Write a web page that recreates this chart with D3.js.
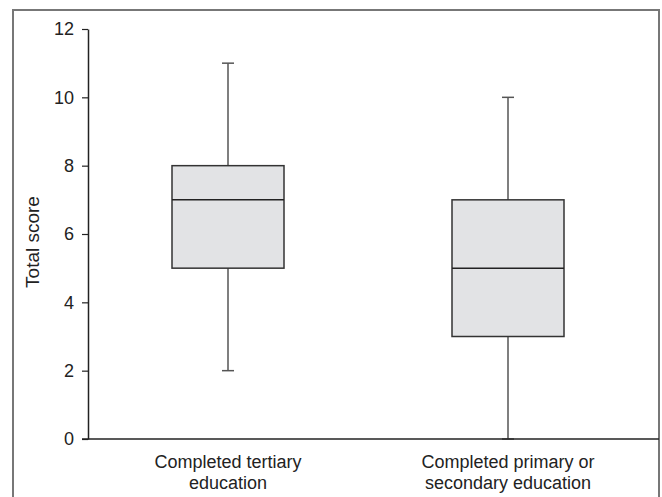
<!DOCTYPE html>
<html>
<head>
<meta charset="utf-8">
<script src="https://cdn.jsdelivr.net/npm/d3@7"></script>
<style>
	body { margin: 0; background: #fff; }
	svg { display: block; font-family: "Liberation Sans", Arial, sans-serif; }
</style>
</head>
<body>
<svg id="chart" width="662" height="497"></svg>
<script>
// groups and their box statistics
var groups = ["Completed tertiary education", "Completed primary or secondary education"];
var groupLines = [["Completed tertiary", "education"], ["Completed primary or", "secondary education"]];
var mins = [2, 0];
var q1s = [5, 3];
var medians = [7, 5];
var q3s = [8, 7];
var maxs = [11, 10];
var yTicks = [0, 2, 4, 6, 8, 10, 12];

var svg = d3.select("#chart");

var margin = { left: 88, top: 29, right: 14, bottom: 58 };
var width = 662, height = 497;

// outer frame (no bottom edge)
svg.append("path")
	.attr("d", "M13,497 L13,10 L659,10 L659,497")
	.style("fill", "none")
	.style("stroke", "#777")
	.style("stroke-width", 2);

var y = d3.scaleLinear()
	.domain([0, 12])
	.range([height - margin.bottom, margin.top]);

var x = d3.scaleBand()
	.domain(groups)
	.range([margin.left, width - margin.right])
	.paddingInner(0.6)
	.paddingOuter(0.3);

var g = svg.append("g");

// y axis
var yAxis = g.append("g")
	.attr("transform", "translate(" + margin.left + ",0)")
	.call(d3.axisLeft(y).tickValues(yTicks).tickSize(6).tickPadding(8).tickSizeOuter(0));
yAxis.attr("font-size", null).attr("font-family", null);
yAxis.select(".domain").style("stroke", "#222").style("stroke-width", 1.5);
yAxis.selectAll(".tick line").style("stroke", "#222").style("stroke-width", 1.2);
yAxis.selectAll("text")
	.style("font-size", "18px")
	.style("fill", "#222");

svg.append("text")
	.attr("transform", "translate(39,242) rotate(-90)")
	.attr("text-anchor", "middle")
	.style("font-size", "19px")
	.style("fill", "#222")
	.text("Total score");

var boxes = g.selectAll(".box")
	.data(groups)
	.enter().append("g")
	.attr("class", "box");

// whiskers
boxes.append("line")
	.attr("x1", (d) => x(d) + x.bandwidth() / 2)
	.attr("x2", (d) => x(d) + x.bandwidth() / 2)
	.attr("y1", (d, i) => y(maxs[i]))
	.attr("y2", (d, i) => y(mins[i]))
	.style("stroke", "#555")
	.style("stroke-width", 1.5);

// caps
[maxs, mins].forEach((arr) => {
	boxes.append("line")
		.attr("x1", (d) => x(d) + x.bandwidth() / 2 - 6)
		.attr("x2", (d) => x(d) + x.bandwidth() / 2 + 6)
		.attr("y1", (d, i) => y(arr[i]))
		.attr("y2", (d, i) => y(arr[i]))
		.style("stroke", "#555")
		.style("stroke-width", 1.5);
});

boxes.append("rect")
	.attr("x", (d) => x(d))
	.attr("width", x.bandwidth())
	.attr("y", (d, i) => y(q3s[i]))
	.attr("height", (d, i) => y(q1s[i]) - y(q3s[i]))
	.style("fill", "#e2e3e5")
	.style("stroke", "#333")
	.style("stroke-width", 1.5);

boxes.append("line")
	.attr("x1", (d) => x(d))
	.attr("x2", (d) => x(d) + x.bandwidth())
	.attr("y1", (d, i) => y(medians[i]))
	.attr("y2", (d, i) => y(medians[i]))
	.style("stroke", "#222")
	.style("stroke-width", 1.5);

// x axis line
g.append("line")
	.attr("x1", margin.left - 6)
	.attr("x2", 659)
	.attr("y1", y(0))
	.attr("y2", y(0))
	.style("stroke", "#222")
	.style("stroke-width", 1.5);

// category labels
boxes.append("text")
	.attr("text-anchor", "middle")
	.attr("x", (d) => x(d) + x.bandwidth() / 2)
	.attr("y", y(0) + 29)
	.style("font-size", "18px")
	.style("fill", "#222")
	.selectAll("tspan")
	.data((d, i) => groupLines[i])
	.enter().append("tspan")
	.attr("x", function() { return d3.select(this.parentNode).attr("x"); })
	.attr("dy", (d, i) => i === 0 ? 0 : 21)
	.text((d) => d);
</script>
</body>
</html>
